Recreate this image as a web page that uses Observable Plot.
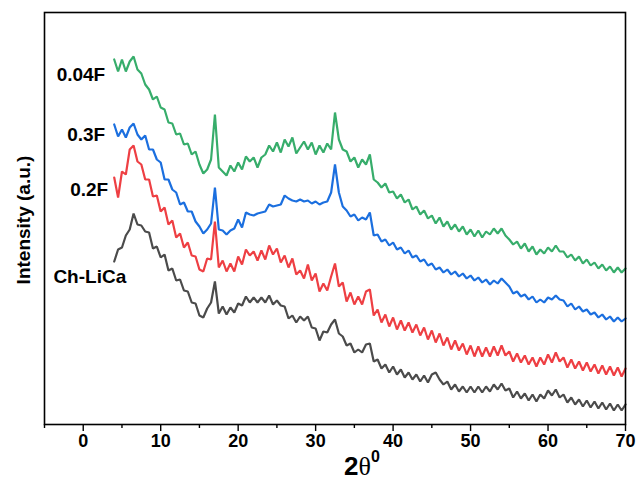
<!DOCTYPE html>
<html><head><meta charset="utf-8">
<script src="https://cdn.jsdelivr.net/npm/d3@7"></script>
<script src="https://cdn.jsdelivr.net/npm/@observablehq/plot@0.6"></script>
<style>body{margin:0;background:#fff}</style>
</head><body><div id="chart"></div>
<script>
// 2θ sampling grid (degrees)
const theta = [
  4,4.5,5,5.5,6,6.5,7,7.5,8,8.5,
  9,9.5,10,10.5,11,11.5,12,12.5,13,13.5,
  14,14.5,15,15.5,16,16.5,17,17.5,18,18.5,
  19,19.5,20,20.5,21,21.5,22,22.5,23,23.5,
  24,24.5,25,25.5,26,26.5,27,27.5,28,28.5,
  29,29.5,30,30.5,31,31.5,32,32.5,33,33.5,
  34,34.5,35,35.5,36,36.5,37,37.5,38,38.5,
  39,39.5,40,40.5,41,41.5,42,42.5,43,43.5,
  44,44.5,45,45.5,46,46.5,47,47.5,48,48.5,
  49,49.5,50,50.5,51,51.5,52,52.5,53,53.5,
  54,54.5,55,55.5,56,56.5,57,57.5,58,58.5,
  59,59.5,60,60.5,61,61.5,62,62.5,63,63.5,
  64,64.5,65,65.5,66,66.5,67,67.5,68,68.5,
  69,69.5,70
];

// Intensities (a.u., offset as in the figure)
const sample004F = [
  365,353,365,353,363,368,355,351,340,335,
  325,328,317,315,302,301,290,291,280,281,
  270,273,260,251,255,265,310,257,253,249,
  259,253,262,255,268,263,267,257,267,270,
  279,273,282,272,285,278,287,271,277,283,
  275,282,270,279,272,281,275,312,285,275,
  273,263,267,257,265,260,270,245,242,237,
  241,232,233,226,230,222,225,215,218,210,
  214,206,209,201,207,198,203,195,200,193,
  198,190,195,188,194,187,193,190,196,191,
  196,189,185,180,183,176,181,173,178,170,
  175,171,177,173,179,173,173,167,170,164,
  168,161,165,159,162,156,160,154,158,152,
  157,152,156
];
const sample03F = [
  300,288,295,287,297,301,290,285,289,275,
  275,265,262,245,245,235,232,220,222,213,
  213,203,198,191,195,201,237,195,194,190,
  194,196,205,197,212,210,209,211,212,213,
  220,218,219,220,229,226,224,223,225,223,
  224,221,223,220,222,223,232,260,232,218,
  214,208,210,204,207,205,212,189,190,183,
  185,179,182,175,177,171,174,167,169,163,
  165,159,161,155,157,152,155,150,153,148,
  151,146,149,144,147,142,145,140,144,141,
  146,142,138,131,133,128,130,125,128,122,
  125,122,127,125,129,125,124,118,121,115,
  118,113,115,110,112,107,110,105,108,103,
  107,103,106
];
const sample02F = [
  247,227,253,250,275,279,263,260,245,245,
  228,229,213,217,200,204,187,191,177,182,
  169,168,155,153,166,165,203,157,164,153,
  161,153,168,160,175,169,173,164,174,165,
  179,170,176,162,169,157,166,150,154,146,
  160,144,151,133,141,134,148,161,138,142,
  123,132,120,128,120,133,135,109,115,102,
  110,98,107,95,104,94,102,92,100,89,
  97,85,94,82,91,79,87,75,84,74,
  81,70,79,68,78,68,77,68,78,69,
  79,69,73,63,71,62,69,60,67,58,
  67,60,70,62,72,63,67,57,65,56,
  63,54,62,53,60,51,59,50,58,49,
  57,48,56
];
const sampleChLiCa = [
  163,175,177,189,195,211,200,199,193,192,
  176,178,167,170,154,156,144,145,134,133,
  122,121,109,107,116,122,143,111,118,110,
  117,112,121,119,128,122,127,122,127,122,
  129,120,124,119,118,106,109,102,108,104,
  108,97,96,84,93,92,100,105,91,88,
  79,81,72,75,72,80,81,63,65,56,
  60,52,58,50,55,47,52,45,50,43,
  49,42,50,52,45,40,43,35,40,33,
  38,32,38,32,38,32,38,33,40,35,
  41,34,36,27,33,26,31,24,30,23,
  30,26,34,29,35,27,30,22,27,20,
  25,18,24,17,23,16,22,15,21,14,
  20,14,20
];

const sampleNames = ["Ch-LiCa", "0.3F", "0.2F", "0.04F"];
const sampleColors = ["#4b4b4b", "#1b6fdf", "#ee3f43", "#37ad6b"];
const seriesValues = [sampleChLiCa, sample03F, sample02F, sample004F];

const majorTicks = [0, 10, 20, 30, 40, 50, 60, 70];
const minorTicks = [-5, 5, 15, 25, 35, 45, 55, 65];

const rows = [];
sampleNames.forEach((name, k) => {
  seriesValues[k].forEach((v, i) => rows.push({theta: theta[i], intensity: v, sample: name}));
});

function seriesLabel(name, values, dx, dy) {
  return Plot.text([{theta: theta[0], intensity: values[0], label: name}], {
    x: "theta", y: "intensity", text: "label",
    textAnchor: "end", dx, dy, fontSize: 19, fontWeight: "bold", fill: "black"
  });
}

const chart = Plot.plot({
  width: 643, height: 482,
  marginLeft: 44, marginRight: 18, marginTop: 12, marginBottom: 58,
  style: {fontFamily: "'Liberation Sans', Arial, sans-serif", fontWeight: "bold", background: "white", color: "black", overflow: "visible"},
  x: {domain: [-5, 70]},
  y: {domain: [0, 412], axis: null},
  color: {domain: sampleNames, range: sampleColors},
  marks: [
    Plot.line(rows, {x: "theta", y: "intensity", z: "sample", stroke: "sample", strokeWidth: 2.2, strokeLinejoin: "miter"}),
    Plot.axisX(minorTicks, {tickSize: 4, tickFormat: () => "", label: null, strokeWidth: 1.4}),
    Plot.axisX(majorTicks, {tickSize: 7, tickPadding: 3, label: null, fontSize: 18, fontWeight: "bold", strokeWidth: 1.4}),
    Plot.frame({stroke: "black", strokeWidth: 1.6}),
    seriesLabel("0.04F", sample004F, -9, 15),
    seriesLabel("0.3F", sample03F, -9, 10),
    seriesLabel("0.2F", sample02F, -6, 12),
    seriesLabel("Ch-LiCa", sampleChLiCa, 12, 15)
  ]
});

const svg = d3.select(chart);
svg.append("text")
  .attr("transform", "translate(25,220) rotate(-90)")
  .attr("text-anchor", "middle")
  .attr("dominant-baseline", "middle")
  .style("font-size", "19px").style("font-weight", "bold")
  .text("Intensity (a.u.)");

const xt = svg.append("text")
  .attr("x", 362).attr("y", 475)
  .attr("text-anchor", "middle");
xt.append("tspan").style("font-size", "26px").style("font-weight", "bold").text("2");
xt.append("tspan").style("font-size", "26px").style("font-weight", "normal")
  .style("font-family", "'Liberation Serif', 'DejaVu Serif', serif").text("θ");
xt.append("tspan").attr("dy", -13).style("font-size", "16px").style("font-weight", "bold").text("0");

document.getElementById("chart").appendChild(chart);
</script>
</body></html>
